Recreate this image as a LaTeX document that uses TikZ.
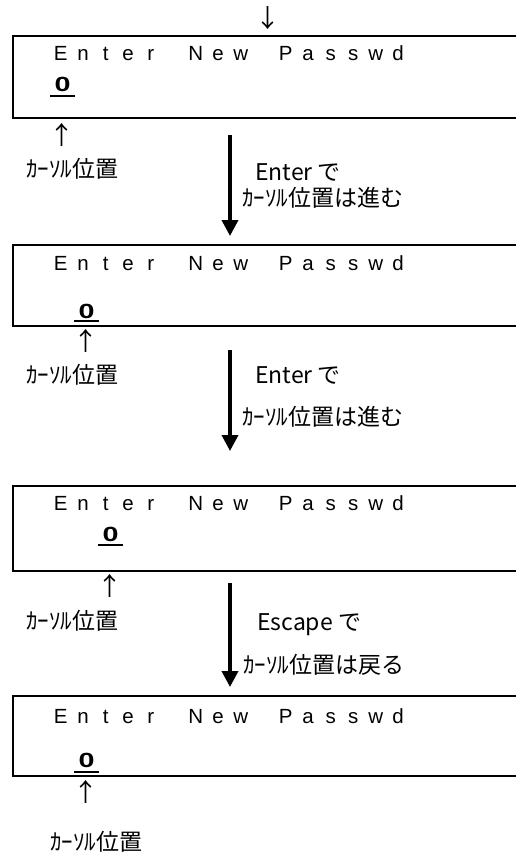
\documentclass[tikz,border=0pt]{standalone}
\usepackage{fontspec}
\setmainfont{Liberation Sans}
\newfontfamily\jpf{Noto Sans CJK JP}
\usetikzlibrary{arrows.meta}
\newcommand\cc[1]{\makebox[22.5pt]{#1}}
\newcommand\lcdtext{\cc{E}\cc{n}\cc{t}\cc{e}\cc{r}\cc{\ }\cc{N}\cc{e}\cc{w}\cc{\ }\cc{P}\cc{a}\cc{s}\cc{s}\cc{w}\cc{d}}
\newcommand\zerochar{\scalebox{1.4}[1]{0}}
\begin{document}
\begin{tikzpicture}[x=1pt,y=-1pt,
 lcd/.style={draw, line width=2.2pt, inner sep=0pt, outer sep=0pt, minimum width=520pt, anchor=north west},
 head/.style={font=\fontsize{20.5}{21}\selectfont, inner sep=0pt, anchor=west},
 digit/.style={font=\fontsize{20.5}{21}\selectfont\bfseries, inner sep=0pt},
 uline/.style={line width=1.6pt},
 jp/.style={font=\jpf\fontsize{23}{24}\selectfont, inner sep=0pt, anchor=west},
 tick/.style={font=\jpf\fontsize{25}{26}\selectfont, inner sep=0pt},
 bigarrow/.style={line width=3.6pt, -{Triangle[width=16pt,length=16pt]}}]
\useasboundingbox (0,0) rectangle (516,852);
\clip (0,0) rectangle (516,852);

% top marker
\node[tick] (d0) at (268,18) {↓};

% screen 1
\node[lcd, minimum height=82pt] (b1) at (13,36) {};
\node[head] (t1) at (49.25,53) {\lcdtext};
\node[digit] (z1) at (62.5,84.5) {\zerochar};
\draw[uline] (50,96) -- (75,96);
\node[tick] (u1) at (62,135) {↑};
\node[jp] (c1) at (26,168.5) {ｶｰｿﾙ位置};

\coordinate (a1s) at (230,135);
\coordinate (a1e) at (230,236);
\draw[bigarrow] (a1s) -- (a1e);
\node[jp] (e1) at (255,172) {Enter で};
\node[jp] (m1) at (242,198) {ｶｰｿﾙ位置は進む};

% screen 2
\node[lcd, minimum height=81pt] (b2) at (13,245) {};
\node[head] (t2) at (49.25,263) {\lcdtext};
\node[digit] (z2) at (86.5,311) {\zerochar};
\draw[uline] (74,321) -- (99,321);
\node[tick] (u2) at (86,341) {↑};
\node[jp] (c2) at (26,374.5) {ｶｰｿﾙ位置};

\coordinate (a2s) at (230,350);
\coordinate (a2e) at (230,451);
\draw[bigarrow] (a2s) -- (a2e);
\node[jp] (e2) at (255,375) {Enter で};
\node[jp] (m2) at (242,417) {ｶｰｿﾙ位置は進む};

% screen 3
\node[lcd, minimum height=85pt] (b3) at (13,486) {};
\node[head] (t3) at (49.25,503) {\lcdtext};
\node[digit] (z3) at (110.5,534.5) {\zerochar};
\draw[uline] (98,545) -- (123,545);
\node[tick] (u3) at (110,586) {↑};
\node[jp] (c3) at (26,621) {ｶｰｿﾙ位置};

\coordinate (a3s) at (230,583);
\coordinate (a3e) at (230,687);
\draw[bigarrow] (a3s) -- (a3e);
\node[jp] (e3) at (257,625) {Escape で};
\node[jp] (m3) at (243,665) {ｶｰｿﾙ位置は戻る};

% screen 4
\node[lcd, minimum height=80pt] (b4) at (13,696) {};
\node[head] (t4) at (49.25,716) {\lcdtext};
\node[digit] (z4) at (86.5,760.5) {\zerochar};
\draw[uline] (74,772) -- (99,772);
\node[tick] (u4) at (86,792) {↑};
\node[jp] (c4) at (50,841.5) {ｶｰｿﾙ位置};
\end{tikzpicture}
\end{document}
